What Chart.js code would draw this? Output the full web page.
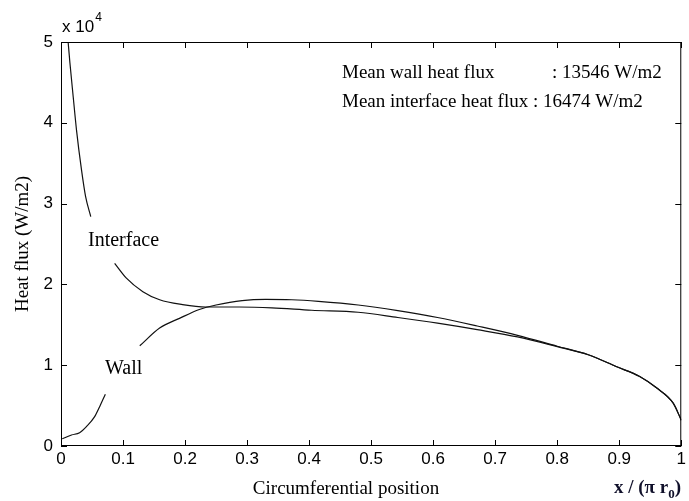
<!DOCTYPE html>
<html>
<head>
<meta charset="utf-8">
<script src="https://cdn.jsdelivr.net/npm/chart.js@4.4.1/dist/chart.umd.min.js"></script>
<style>
  html, body { margin: 0; padding: 0; background: #fff; }
  #wrap { width: 689px; height: 501px; }
</style>
</head>
<body>
<div id="wrap"><canvas id="grafico" width="689" height="501"></canvas></div>
<script>
// posicao circunferencial x/(pi r0) e fluxo de calor (W/m2), null = quebra para o rotulo
const interfaceX = [0.0115, 0.0144, 0.0197, 0.025, 0.033, 0.0396, 0.048, 0.066, 0.0865, 0.105, 0.132, 0.159, 0.196, 0.233, 0.287, 0.34, 0.404, 0.479, 0.543, 0.607, 0.671, 0.736, 0.8, 0.85, 0.896, 0.933, 0.96, 0.987, 1.0];
const interfaceY = [50000, 47400, 43200, 39100, 34200, 30900, 28400, null, 22600, 20800, 19100, 18100, 17500, 17200, 17200, 17100, 16800, 16550, 15900, 15200, 14400, 13500, 12300, 11300, 9800, 8600, 7200, 5300, 3200];

const wallX = [0.002, 0.017, 0.030, 0.041, 0.054, 0.0625, 0.0715, 0.1, 0.127, 0.159, 0.191, 0.223, 0.25, 0.292, 0.33, 0.372, 0.415, 0.479, 0.543, 0.607, 0.671, 0.736, 0.8, 0.85, 0.896, 0.933, 0.96, 0.987, 1.0];
const wallY = [900, 1360, 1650, 2400, 3600, 4900, 6400, null, 12400, 14600, 15800, 16900, 17450, 18000, 18150, 18100, 17900, 17450, 16750, 15900, 14850, 13700, 12350, 11300, 9800, 8600, 7200, 5300, 3200];

const xTicks = [0, 0.1, 0.2, 0.3, 0.4, 0.5, 0.6, 0.7, 0.8, 0.9, 1];
const yTicks = [0, 10000, 20000, 30000, 40000, 50000];

const meanWall = 13546;
const meanInterface = 16474;

function pontos(xs, ys) {
  return xs.map((x, i) => ({ x: x, y: ys[i] }));
}

const serif = '"Liberation Serif", "Times New Roman", serif';
const sans = '"Liberation Sans", Arial, sans-serif';

const moldura = {
  id: 'moldura',
  afterDraw(chart) {
    const ctx = chart.ctx;
    const a = chart.chartArea;
    const sx = chart.scales.x;
    const sy = chart.scales.y;
    ctx.save();
    ctx.strokeStyle = '#000';
    ctx.lineWidth = 1;
    ctx.strokeRect(a.left + 0.5, a.top + 0.5, a.right - a.left - 1, a.bottom - a.top - 1);
    ctx.beginPath();
    xTicks.forEach(v => {
      const px = Math.round(sx.getPixelForValue(v)) + 0.5;
      ctx.moveTo(px, a.bottom); ctx.lineTo(px, a.bottom - 6);
      ctx.moveTo(px, a.top); ctx.lineTo(px, a.top + 6);
    });
    yTicks.forEach(v => {
      const py = Math.round(sy.getPixelForValue(v)) + 0.5;
      ctx.moveTo(a.left, py); ctx.lineTo(a.left + 6, py);
      ctx.moveTo(a.right, py); ctx.lineTo(a.right - 6, py);
    });
    ctx.stroke();

    ctx.fillStyle = '#000';
    ctx.textBaseline = 'alphabetic';
    ctx.textAlign = 'left';

    // multiplicador do eixo y
    ctx.font = '17px ' + sans;
    ctx.fillText('x 10', a.left + 1, 32);
    const wm = ctx.measureText('x 10').width;
    ctx.font = '12px ' + sans;
    ctx.fillText('4', a.left + 2 + wm, 21);

    // resumo
    ctx.font = '19px ' + serif;
    ctx.fillText('Mean wall heat flux', 342, 78);
    ctx.fillText(': ' + meanWall + ' W/m2', 552, 78);
    ctx.fillText('Mean interface heat flux : ' + meanInterface + ' W/m2', 342, 107);

    // rotulos das curvas
    ctx.font = '20px ' + serif;
    ctx.fillText('Interface', 88, 246);
    ctx.fillText('Wall', 105, 374);

    // titulos dos eixos
    ctx.font = '19px ' + serif;
    ctx.textAlign = 'center';
    ctx.fillText('Circumferential position', 346, 494);
    ctx.save();
    ctx.translate(28, (a.top + a.bottom) / 2);
    ctx.rotate(-Math.PI / 2);
    ctx.fillText('Heat flux (W/m2)', 0, 0);
    ctx.restore();

    ctx.textAlign = 'left';
    ctx.fillStyle = '#10102a';
    let px = 614;
    ctx.font = 'bold 19px ' + serif;
    ctx.fillText('x / (\u03c0 r', px, 493);
    px += ctx.measureText('x / (\u03c0 r').width;
    ctx.font = 'bold 13px ' + serif;
    ctx.fillText('0', px, 498);
    px += ctx.measureText('0').width;
    ctx.font = 'bold 19px ' + serif;
    ctx.fillText(')', px, 493);
    ctx.restore();
  }
};

const chart = new Chart(document.getElementById('grafico'), {
  type: 'line',
  data: {
    datasets: [
      {
        label: 'Interface',
        data: pontos(interfaceX, interfaceY),
        borderColor: '#111',
        borderWidth: 1.2,
        pointRadius: 0,
        cubicInterpolationMode: 'monotone',
        spanGaps: false,
        fill: false
      },
      {
        label: 'Wall',
        data: pontos(wallX, wallY),
        borderColor: '#111',
        borderWidth: 1.2,
        pointRadius: 0,
        cubicInterpolationMode: 'monotone',
        spanGaps: false,
        fill: false
      }
    ]
  },
  options: {
    responsive: false,
    animation: false,
    devicePixelRatio: 1,
    layout: { padding: { top: 42, right: 4, left: 0, bottom: 0 } },
    plugins: {
      legend: { display: false },
      tooltip: { enabled: false }
    },
    scales: {
      x: {
        type: 'linear',
        min: 0,
        max: 1,
        afterFit: s => { s.height = 55; },
        afterBuildTicks: s => { s.ticks = xTicks.map(v => ({ value: v })); },
        grid: { display: false, drawTicks: false },
        border: { display: false },
        ticks: {
          color: '#000',
          font: { family: sans, size: 17 },
          padding: 3,
          maxRotation: 0,
          callback: v => (v === 0 || v === 1) ? String(v) : v.toFixed(1)
        }
      },
      y: {
        type: 'linear',
        min: 0,
        max: 50000,
        afterFit: s => { s.width = 61; },
        afterBuildTicks: s => { s.ticks = yTicks.map(v => ({ value: v })); },
        grid: { display: false, drawTicks: false },
        border: { display: false },
        ticks: {
          color: '#000',
          font: { family: sans, size: 17 },
          padding: 8,
          callback: v => String(v / 10000)
        }
      }
    }
  },
  plugins: [moldura]
});
</script>
</body>
</html>
